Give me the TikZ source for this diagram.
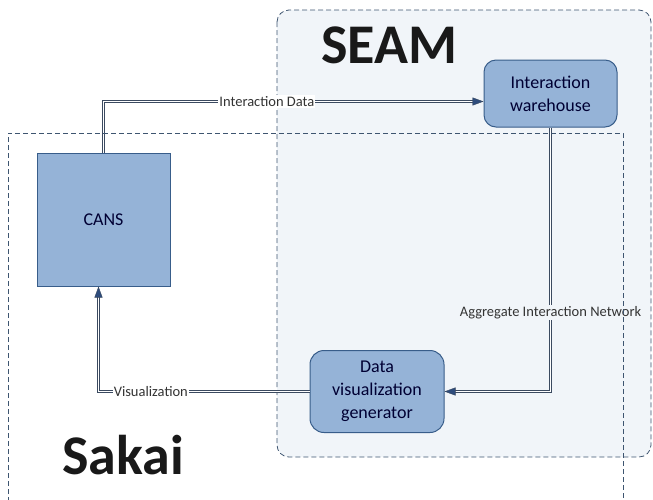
\documentclass[tikz,border=0pt]{standalone}
\usepackage{fontspec}
\setmainfont{Carlito}
\usepackage{xcolor}
\usetikzlibrary{arrows.meta,positioning,calc}

\definecolor{boxfill}{HTML}{95B3D7}
\definecolor{boxline}{HTML}{385D8A}
\definecolor{seamfill}{HTML}{F1F5F9}
\definecolor{zoneline}{HTML}{3E5570}
\definecolor{linkline}{HTML}{3B4A60}
\definecolor{tiptone}{HTML}{2E4C7C}

\begin{document}
\begin{tikzpicture}[x=1pt,y=-1pt,
  zone/.style={draw=zoneline,dashed,dash pattern=on 5pt off 3pt,line width=0.8pt},
  block/.style={draw=boxline,fill=boxfill,line width=1pt,text=black!80!blue,
    font=\fontsize{18}{23}\selectfont,align=center},
  link/.style={draw=linkline,double=white,double distance=1.2pt,line width=0.85pt,
    -{Triangle[length=11pt,width=8pt,fill=tiptone,line width=0.4pt]}},
  tag/.style={font=\fontsize{14.5}{17}\selectfont,text=black!80,inner sep=1pt},
  title/.style={font=\fontsize{56}{60}\selectfont\bfseries,text=black!90}]
\useasboundingbox (0,0) rectangle (653,499);
\clip (0,0) rectangle (653,499);

% Zones
\draw[zone,fill=seamfill,rounded corners=12pt] (277,10) rectangle (651,457);
\node[title] (seam) at (389,45) {SEAM};
\node[title] (sakai) at (123,455) {Sakai};

% Blocks
\node[block,minimum width=133pt,minimum height=133pt] (cans) at (103.5,219.5) {CANS};
\node[block,rounded corners=12pt,minimum width=133pt,minimum height=67pt] (wh) at (550.5,93.5) {Interaction\\warehouse};
\node[block,rounded corners=14pt,minimum width=134pt,minimum height=82pt] (gen) at (377,391.5) {Data\\visualization\\generator};

% Links
\draw[link] (cans.north) |- ([yshift=-8pt]wh.west)
  node[tag,fill=white,pos=0.715] {Interaction Data};
\draw[link] (wh.south) |- (gen.east)
  node[tag,fill=seamfill,pos=0.35] {Aggregate Interaction Network};
\draw[link] (gen.west) -| ([xshift=-5pt]cans.south)
  node[tag,fill=white,pos=0.376] {Visualization};

% Sakai zone, open at the bottom
\draw[zone] (8,510) -- (8,133) -- (623,133) -- (623,510);
\end{tikzpicture}
\end{document}
